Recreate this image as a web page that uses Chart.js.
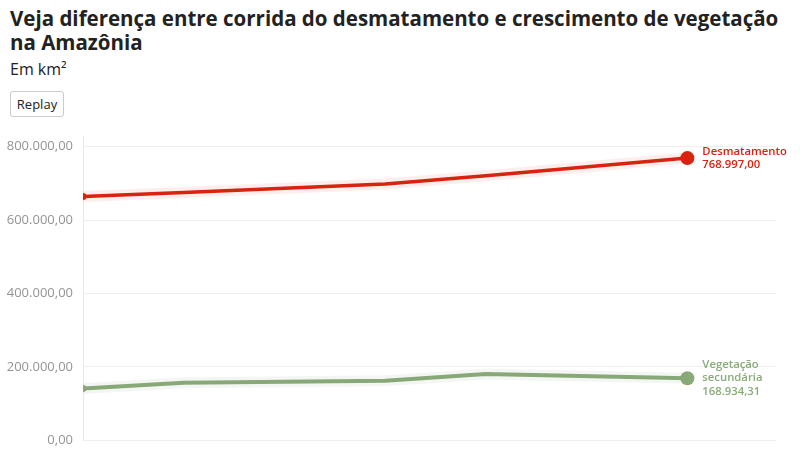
<!DOCTYPE html>
<html lang="pt-BR">
<head>
<meta charset="utf-8">
<script src="https://cdn.jsdelivr.net/npm/chart.js@4"></script>
<style>
  html, body { margin: 0; padding: 0; background: #fff; overflow: hidden; }
  body { width: 800px; height: 450px; position: relative; font-family: 'Open Sans', sans-serif; color: #222; }
  h1 { position: absolute; left: 10px; top: 6px; margin: 0; font-size: 20.5px; line-height: 24px; font-weight: 700; white-space: nowrap; }
  .sub { position: absolute; left: 10px; top: 58px; font-size: 16px; line-height: 22px; }
  button { position: absolute; left: 10px; top: 91px; width: 54px; height: 26px; padding: 0; font-family: 'Open Sans', sans-serif; font-size: 13px; color: #222; background: #fff; border: 1px solid #ccc; border-radius: 3px; }
  .wrap { position: absolute; left: 0; top: 119px; width: 800px; height: 339px; }
</style>
</head>
<body>
<h1>Veja diferença entre corrida do desmatamento e crescimento de vegetação<br>na Amazônia</h1>
<div class="sub">Em km²</div>
<button>Replay</button>
<div class="wrap"><canvas id="chart"></canvas></div>
<script>
// posições no eixo x (sem rótulos visíveis no gráfico)
const xSteps = [0, 1, 3, 4, 6];

// valores, em km²
const desmatamento = [664300, 675500, 698200, 720600, 768997.0];
const vegetacao = [141200, 156400, 161900, 180200, 168934.31];

const yTicks = [0, 200000, 400000, 600000, 800000];

const seriesNames = ['Desmatamento', 'Vegetação secundária'];
const labelLines = [['Desmatamento', '768.997,00'], ['Vegetação', 'secundária', '168.934,31']];

const red = '#d8230f';
const green = '#8aab78';

const fmt = v => v.toLocaleString('de-DE', { minimumFractionDigits: 2, maximumFractionDigits: 2 });
const toPoints = arr => arr.map((y, i) => ({ x: xSteps[i], y }));
const lastIdx = xSteps.length - 1;
const radius = ctx => (ctx.dataIndex === 0 ? 3.5 : ctx.dataIndex === lastIdx ? 7 : 0);

// rótulos ao lado do último ponto
const endLabels = {
  id: 'endLabels',
  afterDatasetsDraw(chart) {
    const { ctx } = chart;
    [2, 3].forEach((dsIndex, k) => {
      const pt = chart.getDatasetMeta(dsIndex).data[lastIdx];
      const lines = labelLines[k];
      const lh = k === 0 ? 12.5 : 13.3;
      ctx.save();
      ctx.font = '600 11.3px "Open Sans"';
      ctx.fillStyle = k === 0 ? red : green;
      ctx.textAlign = 'left';
      ctx.textBaseline = 'middle';
      const start = pt.y - ((lines.length - 1) * lh) / 2;
      lines.forEach((t, i) => ctx.fillText(t, pt.x + 15, start + i * lh));
      ctx.restore();
    });
  },
};

new Chart(document.getElementById('chart'), {
  type: 'line',
  data: {
    datasets: [
      {
        label: 'halo1',
        data: toPoints(desmatamento),
        borderColor: 'rgba(216, 35, 15, 0.08)',
        borderWidth: 11,
        pointRadius: 0,
      },
      {
        label: 'halo2',
        data: toPoints(vegetacao),
        borderColor: 'rgba(120, 140, 110, 0.08)',
        borderWidth: 11,
        pointRadius: 0,
      },
      {
        label: seriesNames[0],
        data: toPoints(desmatamento),
        borderColor: red,
        backgroundColor: red,
        borderWidth: 3.5,
        pointRadius: radius,
        pointBorderWidth: 0,
      },
      {
        label: seriesNames[1],
        data: toPoints(vegetacao),
        borderColor: green,
        backgroundColor: green,
        borderWidth: 4,
        pointRadius: radius,
        pointBorderWidth: 0,
      },
    ],
  },
  options: {
    responsive: true,
    maintainAspectRatio: false,
    animation: false,
    layout: { padding: { top: 7, right: 24, bottom: 10, left: 0 } },
    plugins: {
      legend: { display: false },
      tooltip: { enabled: false },
    },
    scales: {
      x: {
        type: 'linear',
        min: 0,
        max: 6.88,
        display: false,
      },
      y: {
        min: 0,
        max: 827000,
        afterFit: scale => { scale.width = 83; },
        afterBuildTicks: scale => {
          scale.ticks = yTicks.map(value => ({ value }));
        },
        border: { color: '#e8e8e8', width: 1 },
        grid: { color: '#efefef', drawTicks: false },
        ticks: {
          padding: 10,
          color: '#949494',
          font: { family: 'Open Sans', size: 13 },
          callback: v => fmt(v),
        },
      },
    },
  },
  plugins: [endLabels],
});
</script>
</body>
</html>
